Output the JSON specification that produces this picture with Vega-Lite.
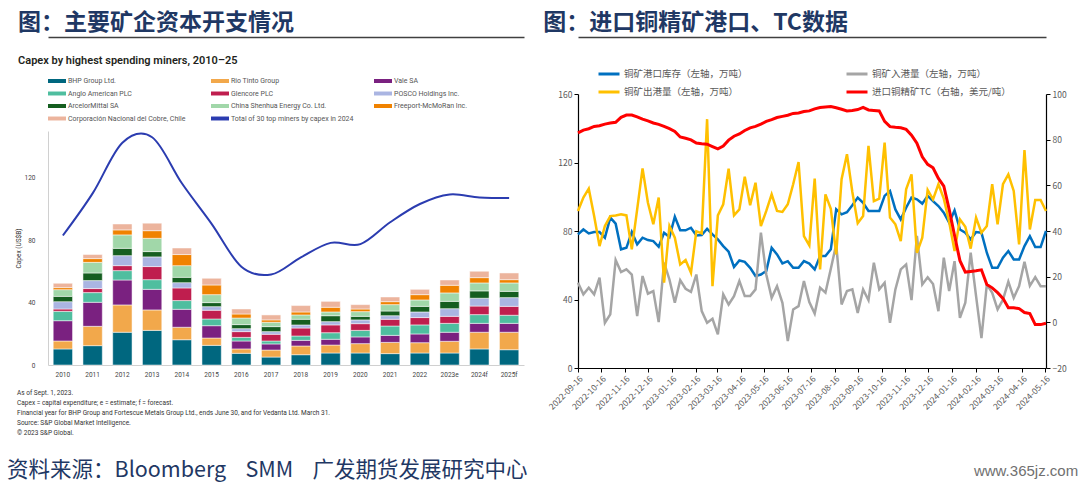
{
  "$schema": "https://vega.github.io/schema/vega-lite/v6.json",
  "background": "white",
  "padding": {"left": 7, "top": 11, "right": 0, "bottom": 0},
  "config": {"view": {"stroke": null}},
  "resolve": {"scale": {"color": "independent"}, "legend": {"color": "independent"}},
  "title": {
    "text": "资料来源：Bloomberg\u00a0\u00a0\u00a0\u00a0SMM\u00a0\u00a0\u00a0\u00a0广发期货发展研究中心",
    "orient": "bottom", "anchor": "start", "frame": "bounds",
    "font": "Noto Sans CJK SC", "fontSize": 21.5, "fontWeight": "normal", "color": "#1F3864",
    "offset": -19, "dx": -8
  },
  "datasets": {
    "companies": [
      {"key": "bhp", "name": "BHP Group Ltd.", "k": 1},
      {"key": "rio", "name": "Rio Tinto Group", "k": 2},
      {"key": "vale", "name": "Vale SA", "k": 3},
      {"key": "anglo", "name": "Anglo American PLC", "k": 4},
      {"key": "glen", "name": "Glencore PLC", "k": 5},
      {"key": "posco", "name": "POSCO Holdings Inc.", "k": 6},
      {"key": "arc", "name": "ArcelorMittal SA", "k": 7},
      {"key": "shen", "name": "China Shenhua Energy Co. Ltd.", "k": 8},
      {"key": "fcx", "name": "Freeport-McMoRan Inc.", "k": 9},
      {"key": "codelco", "name": "Corporación Nacional del Cobre, Chile", "k": 10}
    ],
    "capex": [
      {"year": "2010", "bhp": 10.3, "rio": 5.1, "vale": 13.0, "anglo": 6.0, "glen": 1.5, "posco": 4.7, "arc": 3.4, "shen": 4.3, "fcx": 1.3, "codelco": 2.8, "total": 83.0},
      {"year": "2011", "bhp": 12.4, "rio": 12.4, "vale": 15.4, "anglo": 6.2, "glen": 2.6, "posco": 5.1, "arc": 4.9, "shen": 6.8, "fcx": 2.4, "codelco": 2.6, "total": 110.0},
      {"year": "2012", "bhp": 21.0, "rio": 17.5, "vale": 16.0, "anglo": 6.0, "glen": 3.2, "posco": 6.4, "arc": 4.7, "shen": 8.6, "fcx": 3.2, "codelco": 3.8, "total": 142.5},
      {"year": "2013", "bhp": 22.2, "rio": 13.1, "vale": 13.2, "anglo": 6.2, "glen": 8.4, "posco": 6.2, "arc": 3.4, "shen": 8.5, "fcx": 4.9, "codelco": 4.8, "total": 146.0},
      {"year": "2014", "bhp": 16.2, "rio": 8.0, "vale": 11.5, "anglo": 5.6, "glen": 8.1, "posco": 3.4, "arc": 3.4, "shen": 7.5, "fcx": 7.1, "codelco": 4.2, "total": 116.5},
      {"year": "2015", "bhp": 12.6, "rio": 4.7, "vale": 7.9, "anglo": 4.3, "glen": 5.6, "posco": 2.3, "arc": 2.6, "shen": 5.1, "fcx": 6.2, "codelco": 4.3, "total": 90.5},
      {"year": "2016", "bhp": 7.5, "rio": 2.8, "vale": 5.1, "anglo": 2.3, "glen": 3.7, "posco": 1.9, "arc": 2.6, "shen": 4.2, "fcx": 2.6, "codelco": 3.2, "total": 63.0},
      {"year": "2017", "bhp": 5.1, "rio": 4.5, "vale": 3.9, "anglo": 1.9, "glen": 4.3, "posco": 1.7, "arc": 3.2, "shen": 2.8, "fcx": 1.5, "codelco": 3.2, "total": 58.0},
      {"year": "2018", "bhp": 6.6, "rio": 5.6, "vale": 3.6, "anglo": 2.8, "glen": 5.1, "posco": 2.0, "arc": 3.6, "shen": 2.8, "fcx": 1.9, "codelco": 4.1, "total": 69.0},
      {"year": "2019", "bhp": 7.7, "rio": 5.1, "vale": 3.7, "anglo": 4.2, "glen": 5.0, "posco": 2.1, "arc": 3.8, "shen": 2.4, "fcx": 3.0, "codelco": 3.8, "total": 78.3},
      {"year": "2020", "bhp": 7.7, "rio": 6.0, "vale": 4.3, "anglo": 4.2, "glen": 4.3, "posco": 2.4, "arc": 2.3, "shen": 3.0, "fcx": 1.7, "codelco": 2.8, "total": 77.5},
      {"year": "2021", "bhp": 7.3, "rio": 7.2, "vale": 4.5, "anglo": 6.0, "glen": 4.3, "posco": 2.3, "arc": 3.0, "shen": 4.1, "fcx": 1.9, "codelco": 3.0, "total": 91.5},
      {"year": "2022", "bhp": 7.7, "rio": 6.6, "vale": 5.6, "anglo": 5.8, "glen": 4.7, "posco": 3.6, "arc": 3.6, "shen": 4.1, "fcx": 3.4, "codelco": 3.4, "total": 103.2},
      {"year": "2023e", "bhp": 7.7, "rio": 7.5, "vale": 5.8, "anglo": 5.7, "glen": 4.5, "posco": 4.9, "arc": 4.7, "shen": 5.4, "fcx": 4.9, "codelco": 3.4, "total": 109.3},
      {"year": "2024f", "bhp": 10.3, "rio": 10.7, "vale": 5.7, "anglo": 5.6, "glen": 5.5, "posco": 5.0, "arc": 4.7, "shen": 5.1, "fcx": 3.4, "codelco": 4.1, "total": 107.4},
      {"year": "2025f", "bhp": 9.8, "rio": 11.2, "vale": 5.7, "anglo": 5.2, "glen": 5.7, "posco": 5.6, "arc": 4.0, "shen": 5.4, "fcx": 2.1, "codelco": 4.3, "total": 107.0}
    ],
    "port": [
      {"date": "2022-09-16", "stock": 78.0, "inflow": 49.8, "outflow": 91.7, "tc": 83.0},
      {"date": "2022-09-23", "stock": 80.9, "inflow": 43.0, "outflow": 99.5, "tc": 84.2},
      {"date": "2022-09-30", "stock": 78.6, "inflow": 46.9, "outflow": 104.7, "tc": 84.8},
      {"date": "2022-10-07", "stock": 79.4, "inflow": 43.0, "outflow": 88.7, "tc": 85.8},
      {"date": "2022-10-14", "stock": 79.4, "inflow": 52.7, "outflow": 71.2, "tc": 86.1},
      {"date": "2022-10-21", "stock": 76.1, "inflow": 26.4, "outflow": 82.9, "tc": 86.8},
      {"date": "2022-10-28", "stock": 87.8, "inflow": 31.3, "outflow": 88.7, "tc": 87.3},
      {"date": "2022-11-04", "stock": 84.3, "inflow": 63.0, "outflow": 89.1, "tc": 87.6},
      {"date": "2022-11-11", "stock": 69.3, "inflow": 56.0, "outflow": 89.7, "tc": 89.8},
      {"date": "2022-11-18", "stock": 70.2, "inflow": 57.6, "outflow": 89.1, "tc": 90.8},
      {"date": "2022-11-25", "stock": 79.4, "inflow": 54.6, "outflow": 69.3, "tc": 90.8},
      {"date": "2022-12-02", "stock": 72.2, "inflow": 30.3, "outflow": 92.6, "tc": 90.0},
      {"date": "2022-12-09", "stock": 76.1, "inflow": 53.7, "outflow": 116.6, "tc": 89.0},
      {"date": "2022-12-16", "stock": 74.7, "inflow": 43.4, "outflow": 96.5, "tc": 88.2},
      {"date": "2022-12-23", "stock": 74.1, "inflow": 44.9, "outflow": 83.9, "tc": 87.3},
      {"date": "2022-12-30", "stock": 70.8, "inflow": 26.8, "outflow": 99.5, "tc": 86.7},
      {"date": "2023-01-06", "stock": 79.0, "inflow": 61.5, "outflow": 49.8, "tc": 85.8},
      {"date": "2023-01-13", "stock": 76.5, "inflow": 51.7, "outflow": 82.9, "tc": 84.8},
      {"date": "2023-01-20", "stock": 88.3, "inflow": 38.1, "outflow": 76.1, "tc": 83.6},
      {"date": "2023-01-27", "stock": 80.4, "inflow": 51.3, "outflow": 60.5, "tc": 81.2},
      {"date": "2023-02-03", "stock": 80.4, "inflow": 46.3, "outflow": 63.0, "tc": 80.6},
      {"date": "2023-02-10", "stock": 81.9, "inflow": 44.5, "outflow": 55.6, "tc": 79.9},
      {"date": "2023-02-17", "stock": 77.4, "inflow": 54.6, "outflow": 79.9, "tc": 78.5},
      {"date": "2023-02-24", "stock": 77.6, "inflow": 33.2, "outflow": 78.6, "tc": 78.2},
      {"date": "2023-03-03", "stock": 81.3, "inflow": 26.4, "outflow": 145.3, "tc": 78.0},
      {"date": "2023-03-10", "stock": 78.0, "inflow": 28.7, "outflow": 47.8, "tc": 77.0},
      {"date": "2023-03-17", "stock": 75.1, "inflow": 19.6, "outflow": 89.1, "tc": 76.0},
      {"date": "2023-03-24", "stock": 71.2, "inflow": 43.0, "outflow": 95.6, "tc": 77.2},
      {"date": "2023-03-31", "stock": 67.9, "inflow": 37.1, "outflow": 116.4, "tc": 79.8},
      {"date": "2023-04-07", "stock": 59.0, "inflow": 42.0, "outflow": 89.1, "tc": 81.5},
      {"date": "2023-04-14", "stock": 62.8, "inflow": 50.8, "outflow": 92.6, "tc": 82.5},
      {"date": "2023-04-21", "stock": 62.0, "inflow": 42.0, "outflow": 111.7, "tc": 84.0},
      {"date": "2023-04-28", "stock": 58.5, "inflow": 42.0, "outflow": 95.0, "tc": 85.2},
      {"date": "2023-05-05", "stock": 53.7, "inflow": 45.9, "outflow": 108.2, "tc": 85.8},
      {"date": "2023-05-12", "stock": 54.6, "inflow": 79.0, "outflow": 82.9, "tc": 86.8},
      {"date": "2023-05-19", "stock": 56.6, "inflow": 54.6, "outflow": 91.7, "tc": 88.0},
      {"date": "2023-05-26", "stock": 70.2, "inflow": 41.0, "outflow": 101.4, "tc": 88.8},
      {"date": "2023-06-02", "stock": 66.3, "inflow": 47.8, "outflow": 91.7, "tc": 89.7},
      {"date": "2023-06-09", "stock": 61.1, "inflow": 38.1, "outflow": 91.1, "tc": 90.2},
      {"date": "2023-06-16", "stock": 62.4, "inflow": 15.7, "outflow": 95.6, "tc": 90.7},
      {"date": "2023-06-23", "stock": 58.5, "inflow": 34.2, "outflow": 107.3, "tc": 91.5},
      {"date": "2023-06-30", "stock": 58.5, "inflow": 36.1, "outflow": 120.3, "tc": 91.7},
      {"date": "2023-07-07", "stock": 62.4, "inflow": 50.8, "outflow": 77.0, "tc": 92.3},
      {"date": "2023-07-14", "stock": 61.0, "inflow": 38.5, "outflow": 71.6, "tc": 92.6},
      {"date": "2023-07-21", "stock": 57.6, "inflow": 31.8, "outflow": 110.6, "tc": 93.5},
      {"date": "2023-07-28", "stock": 65.4, "inflow": 46.9, "outflow": 57.6, "tc": 94.1},
      {"date": "2023-08-04", "stock": 65.4, "inflow": 44.0, "outflow": 101.4, "tc": 94.3},
      {"date": "2023-08-11", "stock": 69.3, "inflow": 58.0, "outflow": 93.0, "tc": 94.5},
      {"date": "2023-08-18", "stock": 92.6, "inflow": 72.2, "outflow": 66.3, "tc": 94.0},
      {"date": "2023-08-25", "stock": 89.7, "inflow": 37.1, "outflow": 110.2, "tc": 93.3},
      {"date": "2023-09-01", "stock": 91.0, "inflow": 44.9, "outflow": 124.8, "tc": 92.6},
      {"date": "2023-09-08", "stock": 95.0, "inflow": 45.9, "outflow": 102.8, "tc": 92.8},
      {"date": "2023-09-15", "stock": 99.5, "inflow": 32.2, "outflow": 84.5, "tc": 93.2},
      {"date": "2023-09-22", "stock": 96.5, "inflow": 45.9, "outflow": 88.7, "tc": 94.1},
      {"date": "2023-09-29", "stock": 91.7, "inflow": 39.6, "outflow": 129.7, "tc": 93.0},
      {"date": "2023-10-06", "stock": 91.7, "inflow": 61.5, "outflow": 97.5, "tc": 92.8},
      {"date": "2023-10-13", "stock": 91.7, "inflow": 45.9, "outflow": 98.9, "tc": 92.6},
      {"date": "2023-10-20", "stock": 100.5, "inflow": 49.8, "outflow": 131.6, "tc": 88.0},
      {"date": "2023-10-27", "stock": 103.4, "inflow": 26.4, "outflow": 87.8, "tc": 85.7},
      {"date": "2023-11-03", "stock": 92.6, "inflow": 45.9, "outflow": 83.9, "tc": 85.4},
      {"date": "2023-11-10", "stock": 86.8, "inflow": 57.6, "outflow": 74.1, "tc": 85.2},
      {"date": "2023-11-17", "stock": 93.6, "inflow": 60.5, "outflow": 104.3, "tc": 84.5},
      {"date": "2023-11-24", "stock": 99.5, "inflow": 39.6, "outflow": 113.1, "tc": 82.0},
      {"date": "2023-12-01", "stock": 98.5, "inflow": 77.1, "outflow": 67.3, "tc": 78.5},
      {"date": "2023-12-08", "stock": 96.0, "inflow": 48.8, "outflow": 76.1, "tc": 72.5},
      {"date": "2023-12-15", "stock": 100.5, "inflow": 53.0, "outflow": 104.0, "tc": 69.2},
      {"date": "2023-12-22", "stock": 97.5, "inflow": 49.0, "outflow": 98.5, "tc": 67.7},
      {"date": "2023-12-29", "stock": 94.6, "inflow": 33.2, "outflow": 107.3, "tc": 63.0},
      {"date": "2024-01-05", "stock": 90.7, "inflow": 64.4, "outflow": 98.9, "tc": 59.7},
      {"date": "2024-01-12", "stock": 84.9, "inflow": 44.9, "outflow": 85.2, "tc": 49.5},
      {"date": "2024-01-19", "stock": 92.0, "inflow": 62.4, "outflow": 68.3, "tc": 38.0},
      {"date": "2024-01-26", "stock": 80.9, "inflow": 29.3, "outflow": 86.8, "tc": 27.0},
      {"date": "2024-02-02", "stock": 79.0, "inflow": 38.1, "outflow": 82.5, "tc": 22.0},
      {"date": "2024-02-09", "stock": 75.1, "inflow": 67.3, "outflow": 69.7, "tc": 22.3},
      {"date": "2024-02-16", "stock": 79.4, "inflow": 42.0, "outflow": 87.8, "tc": 22.6},
      {"date": "2024-02-23", "stock": 79.0, "inflow": 17.4, "outflow": 79.0, "tc": 23.0},
      {"date": "2024-03-01", "stock": 67.3, "inflow": 48.8, "outflow": 82.9, "tc": 16.6},
      {"date": "2024-03-08", "stock": 58.5, "inflow": 43.9, "outflow": 107.3, "tc": 15.1},
      {"date": "2024-03-15", "stock": 58.5, "inflow": 34.2, "outflow": 83.9, "tc": 13.0},
      {"date": "2024-03-22", "stock": 64.4, "inflow": 39.9, "outflow": 107.3, "tc": 10.5},
      {"date": "2024-03-29", "stock": 68.3, "inflow": 50.4, "outflow": 113.1, "tc": 6.4},
      {"date": "2024-04-05", "stock": 63.4, "inflow": 41.0, "outflow": 103.4, "tc": 6.4},
      {"date": "2024-04-12", "stock": 63.4, "inflow": 47.8, "outflow": 72.2, "tc": 6.0},
      {"date": "2024-04-19", "stock": 71.2, "inflow": 62.0, "outflow": 127.3, "tc": 4.3},
      {"date": "2024-04-26", "stock": 77.0, "inflow": 48.0, "outflow": 80.9, "tc": 3.8},
      {"date": "2024-05-03", "stock": 70.6, "inflow": 53.1, "outflow": 98.1, "tc": -1.0},
      {"date": "2024-05-10", "stock": 70.6, "inflow": 47.8, "outflow": 98.1, "tc": -1.0},
      {"date": "2024-05-17", "stock": 80.0, "inflow": 47.8, "outflow": 91.7, "tc": -0.4}
    ]
  },
  "spacing": 19,
  "hconcat": [
    {
      "resolve": {"scale": {"color": "independent"}, "legend": {"color": "independent"}},
      "title": {
        "text": [
          "As of Sept. 1, 2023.",
          "Capex = capital expenditure; e = estimate; f = forecast.",
          "Financial year for BHP Group and Fortescue Metals Group Ltd., ends June 30, and for Vedanta Ltd. March 31.",
          "Source: S&P Global Market Intelligence.",
          "© 2023 S&P Global."
        ],
        "orient": "bottom", "anchor": "start", "frame": "bounds",
        "font": "Roboto", "fontSize": 6.5, "fontWeight": "normal", "color": "#333333",
        "lineHeight": 10.2, "offset": 12, "dx": 2
      },
      "vconcat": [
        {
          "width": 476,
          "height": 271,
          "data": {"name": "capex"},
          "title": {
            "text": "图：主要矿企资本开支情况",
            "subtitle": "Capex by highest spending miners, 2010–25",
            "anchor": "start", "frame": "bounds",
            "font": "Noto Sans CJK SC", "fontSize": 23, "fontWeight": "bold", "color": "#1F3864",
            "subtitleFont": "Roboto", "subtitleFontSize": 11, "subtitleFontWeight": 600, "subtitleColor": "#231F20",
            "subtitlePadding": 20, "offset": -29, "dx": 3
          },
          "encoding": {
            "x": {
              "field": "year", "type": "ordinal", "sort": null,
              "scale": {"paddingInner": 0.35, "paddingOuter": 0.175},
              "axis": {"title": null, "labelAngle": 0, "labelFont": "Roboto", "labelFontSize": 6.5, "labelColor": "#444444", "labelPadding": 6, "ticks": false, "domainColor": "#D0D0D0"}
            }
          },
          "layer": [
            {
              "transform": [
                {"fold": ["bhp", "rio", "vale", "anglo", "glen", "posco", "arc", "shen", "fcx", "codelco"], "as": ["key", "capex"]},
                {"lookup": "key", "from": {"data": {"name": "companies"}, "key": "key", "fields": ["name", "k"]}}
              ],
              "mark": {"type": "bar", "stroke": "white", "strokeWidth": 0.5},
              "encoding": {
                "y": {
                  "field": "capex", "type": "quantitative", "stack": "zero",
                  "scale": {"domain": [0, 150], "nice": false, "range": [271, 37]},
                  "axis": {"title": "Capex (US$B)", "titleFont": "Roboto", "titleFontSize": 6.5, "titleFontWeight": "normal", "titleColor": "#333333", "titlePadding": 3, "values": [0, 20, 40, 60, 80, 100, 120, 140], "labelOverlap": false, "labelFont": "Roboto", "labelFontSize": 6.5, "labelColor": "#444444", "labelPadding": 13, "ticks": false, "grid": false, "domainColor": "#D0D0D0"}
                },
                "color": {
                  "field": "name", "type": "nominal",
                  "scale": {
                    "domain": ["BHP Group Ltd.", "Rio Tinto Group", "Vale SA", "Anglo American PLC", "Glencore PLC", "POSCO Holdings Inc.", "ArcelorMittal SA", "China Shenhua Energy Co. Ltd.", "Freeport-McMoRan Inc.", "Corporación Nacional del Cobre, Chile", "Total of 30 top miners by capex in 2024"],
                    "range": ["#00677F", "#F2A84B", "#7A2180", "#4FBE9F", "#BF1E4E", "#AAB5E2", "#155E20", "#A1D7A9", "#F08200", "#ECB49D", "#2B3CB0"]
                  },
                  "legend": {
                    "orient": "none", "legendX": 0, "legendY": -22, "padding": 0,
                    "title": null, "columns": 3, "direction": "horizontal",
                    "symbolType": "M-1,-0.22L1,-0.22L1,0.22L-1,0.22Z", "symbolSize": 324, "symbolStrokeWidth": 0,
                    "labelFont": "Roboto", "labelFontSize": 7, "labelColor": "#555555", "labelOffset": 2, "labelLimit": 250,
                    "rowPadding": 0.5, "columnPadding": 20, "gridAlign": "all"
                  }
                },
                "order": {"field": "k", "type": "quantitative"}
              }
            },
            {
              "mark": {"type": "line", "interpolate": "cardinal", "strokeWidth": 2},
              "encoding": {
                "x": {
                  "field": "year", "type": "ordinal", "sort": null,
                  "axis": {"orient": "top", "offset": 57, "labels": false, "ticks": false, "grid": false, "title": null, "domainColor": "#404040", "domainWidth": 1.3}
                },
                "y": {"field": "total", "type": "quantitative", "axis": {"title": "Capex (US$B)"}},
                "color": {"datum": "Total of 30 top miners by capex in 2024", "type": "nominal"}
              }
            }
          ],
          "resolve": {"axis": {"x": "independent"}}
        }
      ]
    },
    {
      "resolve": {"scale": {"color": "independent"}, "legend": {"color": "independent"}},
      "title": {
        "text": "www.365jz.com",
        "orient": "bottom", "anchor": "end", "frame": "bounds",
        "font": "Liberation Sans", "fontSize": 15, "fontWeight": "normal", "color": "#707070",
        "offset": 53, "dx": 12
      },
      "vconcat": [
        {
          "width": 468,
          "height": 274,
          "data": {"name": "port"},
          "title": {
            "text": "图：进口铜精矿港口、TC数据",
            "anchor": "start", "frame": "bounds",
            "font": "Noto Sans CJK SC", "fontSize": 23, "fontWeight": "bold", "color": "#1F3864",
            "offset": 2.5, "dx": -4
          },
          "encoding": {
            "x": {
              "field": "date", "type": "temporal",
              "scale": {"type": "utc", "domain": [{"year": 2022, "month": 9, "date": 16, "utc": true}, {"year": 2024, "month": 5, "date": 17, "utc": true}]},
              "axis": {
                "title": null, "grid": false,
                "values": [
                  {"year": 2022, "month": 9, "date": 16, "utc": true}, {"year": 2022, "month": 10, "date": 16, "utc": true}, {"year": 2022, "month": 11, "date": 16, "utc": true}, {"year": 2022, "month": 12, "date": 16, "utc": true},
                  {"year": 2023, "month": 1, "date": 16, "utc": true}, {"year": 2023, "month": 2, "date": 16, "utc": true}, {"year": 2023, "month": 3, "date": 16, "utc": true}, {"year": 2023, "month": 4, "date": 16, "utc": true},
                  {"year": 2023, "month": 5, "date": 16, "utc": true}, {"year": 2023, "month": 6, "date": 16, "utc": true}, {"year": 2023, "month": 7, "date": 16, "utc": true}, {"year": 2023, "month": 8, "date": 16, "utc": true},
                  {"year": 2023, "month": 9, "date": 16, "utc": true}, {"year": 2023, "month": 10, "date": 16, "utc": true}, {"year": 2023, "month": 11, "date": 16, "utc": true}, {"year": 2023, "month": 12, "date": 16, "utc": true},
                  {"year": 2024, "month": 1, "date": 16, "utc": true}, {"year": 2024, "month": 2, "date": 16, "utc": true}, {"year": 2024, "month": 3, "date": 16, "utc": true}, {"year": 2024, "month": 4, "date": 16, "utc": true},
                  {"year": 2024, "month": 5, "date": 16, "utc": true}
                ],
                "labelExpr": "utcFormat(datum.value, '%Y-%m-%d')",
                "labelAngle": -45, "labelFont": "Noto Sans CJK SC", "labelFontSize": 8.5, "labelColor": "#595959",
                "labelPadding": 2, "labelOverlap": false, "labelFlush": false, "labelBound": false,
                "tickSize": 4, "tickColor": "#000000", "domainColor": "#000000", "domainWidth": 1.2
              }
            }
          },
          "layer": [
            {
              "layer": [
                {
                  "mark": {"type": "line", "strokeWidth": 2.5},
                  "encoding": {
                    "y": {
                      "field": "stock", "type": "quantitative", "scale": {"domain": [0, 160], "nice": false},
                      "axis": {"title": null, "grid": false, "values": [0, 20, 40, 60, 80, 100, 120, 140, 160], "labelOverlap": false, "labelFont": "Noto Sans CJK SC", "labelFontSize": 8.5, "labelColor": "#595959", "labelPadding": 2, "tickSize": 4, "tickColor": "#000000", "domainColor": "#000000", "domainWidth": 1.2}
                    },
                    "color": {
                      "datum": "铜矿港口库存（左轴，万吨）", "type": "nominal",
                      "scale": {
                        "domain": ["铜矿港口库存（左轴，万吨）", "铜矿入港量（左轴，万吨）", "铜矿出港量（左轴，万吨）", "进口铜精矿TC（右轴，美元/吨）"],
                        "range": ["#0070C0", "#A5A5A5", "#FFC000", "#FF0000"]
                      },
                      "legend": {
                        "orient": "none", "legendX": 19, "legendY": -32, "padding": 0,
                        "title": null, "columns": 2, "direction": "horizontal",
                        "symbolType": "stroke", "symbolStrokeWidth": 3, "symbolSize": 441,
                        "labelFont": "Noto Sans CJK SC", "labelFontSize": 9.5, "labelColor": "#595959", "labelOffset": 3, "labelLimit": 300,
                        "rowPadding": -1, "columnPadding": 77, "gridAlign": "all"
                      }
                    }
                  }
                },
                {
                  "mark": {"type": "line", "strokeWidth": 2.5},
                  "encoding": {
                    "y": {"field": "inflow", "type": "quantitative", "scale": {"domain": [0, 160], "nice": false}, "axis": {"title": null}},
                    "color": {"datum": "铜矿入港量（左轴，万吨）", "type": "nominal"}
                  }
                },
                {
                  "mark": {"type": "line", "strokeWidth": 2.5},
                  "encoding": {
                    "y": {"field": "outflow", "type": "quantitative", "scale": {"domain": [0, 160], "nice": false}, "axis": {"title": null}},
                    "color": {"datum": "铜矿出港量（左轴，万吨）", "type": "nominal"}
                  }
                }
              ]
            },
            {
              "mark": {"type": "line", "strokeWidth": 3},
              "encoding": {
                "x": {
                  "field": "date", "type": "temporal",
                  "scale": {"type": "utc", "domain": [{"year": 2022, "month": 9, "date": 16, "utc": true}, {"year": 2024, "month": 5, "date": 17, "utc": true}]},
                  "axis": {"orient": "top", "offset": 57, "labels": false, "ticks": false, "grid": false, "title": null, "domainColor": "#404040", "domainWidth": 1.3}
                },
                "y": {
                  "field": "tc", "type": "quantitative", "scale": {"domain": [-20, 100], "nice": false},
                  "axis": {"orient": "right", "title": null, "grid": false, "values": [-20, 0, 20, 40, 60, 80, 100], "labelOverlap": false, "labelFont": "Noto Sans CJK SC", "labelFontSize": 8.5, "labelColor": "#595959", "labelPadding": 2, "tickSize": 4, "tickColor": "#000000", "domainColor": "#000000", "domainWidth": 1.2}
                },
                "color": {"datum": "进口铜精矿TC（右轴，美元/吨）", "type": "nominal"}
              }
            }
          ],
          "resolve": {"scale": {"y": "independent"}, "axis": {"x": "independent"}}
        }
      ]
    }
  ]
}
